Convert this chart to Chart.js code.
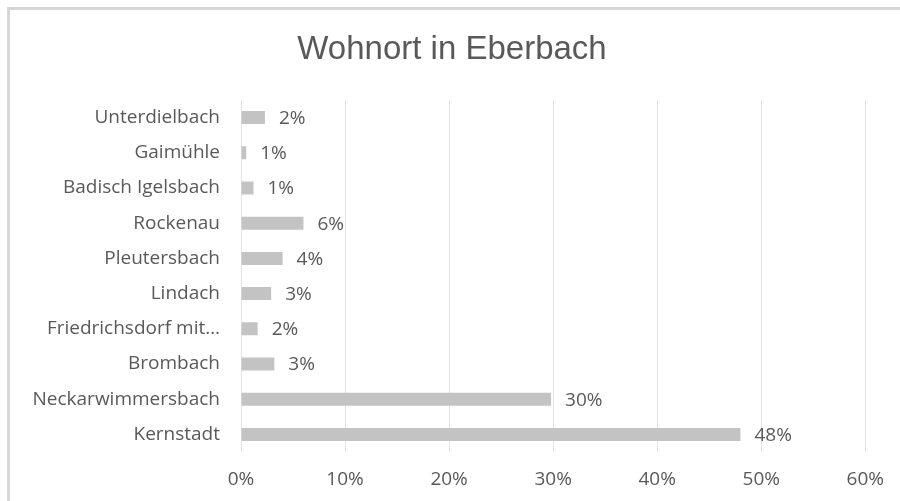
<!DOCTYPE html>
<html>
<head>
<meta charset="utf-8">
<script src="https://cdn.jsdelivr.net/npm/chart.js@4.4.1/dist/chart.umd.min.js"></script>
<style>
html,body{margin:0;padding:0;background:#fff;}
#wrap{position:relative;width:900px;height:501px;overflow:hidden;}
#frame{position:absolute;left:7px;top:7px;width:900px;height:500px;border-top:3px solid #d6d6d6;border-left:3px solid #d6d6d6;pointer-events:none;}
canvas{position:absolute;left:0;top:0;}
</style>
</head>
<body>
<div id="wrap">
<canvas id="c" width="900" height="501"></canvas>
<div id="frame"></div>
</div>
<script>
const titleText = 'Wohnort in Eberbach';
const categories = ['Unterdielbach','Gaimühle','Badisch Igelsbach','Rockenau','Pleutersbach','Lindach','Friedrichsdorf mit…','Brombach','Neckarwimmersbach','Kernstadt'];
const shares = [2.3, 0.5, 1.2, 6.0, 4.0, 2.9, 1.6, 3.2, 29.8, 48.0];
const tickValues = [0, 10, 20, 30, 40, 50, 60];

const txt = '#595959';
const bodyFamily = "'Open Sans', Lato, sans-serif";
const labelFont = "19px " + bodyFamily;

const titlePlugin = {
  id: 'titleText',
  afterDraw(chart) {
    const ctx = chart.ctx;
    ctx.save();
    ctx.font = "33px 'Liberation Sans', Arial, sans-serif";
    ctx.fillStyle = txt;
    ctx.textAlign = 'center';
    ctx.textBaseline = 'alphabetic';
    ctx.fillText(titleText, 452, 59);
    ctx.restore();
  }
};

const dataLabels = {
  id: 'dataLabels',
  afterDatasetsDraw(chart) {
    const ctx = chart.ctx;
    const meta = chart.getDatasetMeta(0);
    ctx.save();
    ctx.font = labelFont;
    ctx.fillStyle = txt;
    ctx.textAlign = 'left';
    ctx.textBaseline = 'middle';
    meta.data.forEach((bar, i) => {
      const v = chart.data.datasets[0].data[i];
      ctx.fillText(Math.round(v) + '%', bar.x + 14, bar.y + 1);
    });
    ctx.restore();
  }
};

new Chart(document.getElementById('c'), {
  type: 'bar',
  data: {
    labels: categories,
    datasets: [{
      data: shares,
      backgroundColor: '#c3c3c3',
      borderWidth: 0,
      barPercentage: 0.37,
      categoryPercentage: 1
    }]
  },
  options: {
    indexAxis: 'y',
    responsive: false,
    animation: false,
    devicePixelRatio: 1,
    layout: { padding: { top: 100, right: 34, bottom: 0, left: 0 } },
    plugins: {
      legend: { display: false },
      tooltip: { enabled: false },
      title: { display: false }
    },
    scales: {
      x: {
        min: 0, max: 60,
        afterBuildTicks(scale) { scale.ticks = tickValues.map(v => ({ value: v })); },
        afterFit(scale) { scale.height = 49; },
        grid: { color: '#e3e3e3', lineWidth: 1, drawTicks: false },
        border: { display: false },
        ticks: {
          color: txt,
          font: { family: bodyFamily, size: 19 },
          padding: 16,
          callback: v => v + '%'
        }
      },
      y: {
        afterFit(scale) { scale.width = 241; },
        grid: { display: false, drawTicks: false },
        border: { display: false },
        ticks: {
          color: txt,
          font: { family: bodyFamily, size: 19 },
          padding: 21,
          autoSkip: false
        }
      }
    }
  },
  plugins: [dataLabels, titlePlugin]
});
</script>
</body>
</html>
